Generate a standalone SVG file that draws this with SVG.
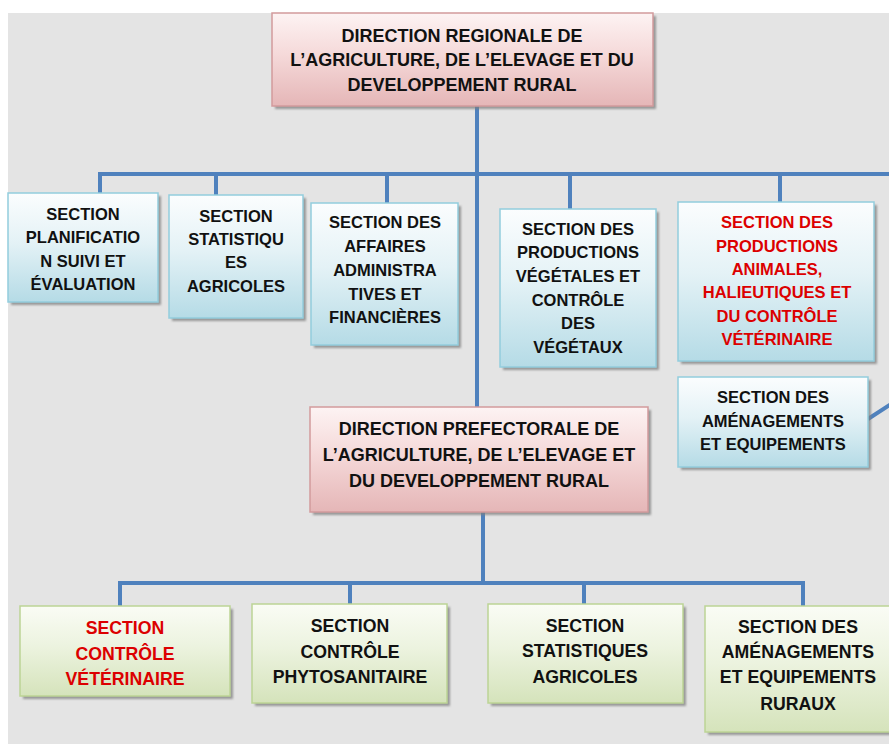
<svg xmlns="http://www.w3.org/2000/svg" width="889" height="744" viewBox="0 0 889 744">
  <defs>
    <linearGradient id="gPink" x1="0" y1="0" x2="0" y2="1">
      <stop offset="0" stop-color="#fdf3f3"/>
      <stop offset="0.45" stop-color="#f5d9d9"/>
      <stop offset="1" stop-color="#e5b6b7"/>
    </linearGradient>
    <linearGradient id="gBlue" x1="0" y1="0" x2="0" y2="1">
      <stop offset="0" stop-color="#fbfdfe"/>
      <stop offset="0.45" stop-color="#e4f2f6"/>
      <stop offset="1" stop-color="#b5dbe6"/>
    </linearGradient>
    <linearGradient id="gGreen" x1="0" y1="0" x2="0" y2="1">
      <stop offset="0" stop-color="#fafcf5"/>
      <stop offset="0.45" stop-color="#ecf3df"/>
      <stop offset="1" stop-color="#d5e3bb"/>
    </linearGradient>
    <filter id="soft" x="-5%" y="-5%" width="110%" height="110%">
      <feGaussianBlur stdDeviation="1"/>
    </filter>
  </defs>
  <style>
    .shadow { fill: #7f7f7f; opacity: 0.75; filter: url(#soft); }
    .pink { fill: url(#gPink); stroke: #d29a9c; stroke-width: 1.5; }
    .blue { fill: url(#gBlue); stroke: #93cddd; stroke-width: 1.5; }
    .green { fill: url(#gGreen); stroke: #bcd495; stroke-width: 1.5; }
    text { font-family: "Liberation Sans", Arial, sans-serif; font-weight: bold; text-anchor: middle; fill: #111; }
    .big { font-size: 18px; }
    .mid { font-size: 16.5px; }
    .low { font-size: 17.7px; }
    .red { fill: #dc0000; }
    .link { fill: none; stroke: #4f81bd; stroke-width: 4; }
  </style>

  <!-- page background -->
  <rect x="0" y="0" width="889" height="744" fill="#ffffff"/>
  <rect x="8" y="13" width="881" height="731" fill="#e4e4e4"/>

  <!-- connectors -->
  <g id="connectors">
    <path class="link" d="M477 106 V407"/>
    <path class="link" d="M100 193 V174 H892"/>
    <path class="link" d="M216 195 V174"/>
    <path class="link" d="M387 203 V174"/>
    <path class="link" d="M570 209 V174"/>
    <path class="link" d="M780 202 V174"/>
    <path class="link" d="M891 174 V404 L868 419"/>
    <path class="link" d="M483 512 V583"/>
    <path class="link" d="M120 606 V583 H803 V606"/>
    <path class="link" d="M350 604 V583"/>
    <path class="link" d="M584 604 V583"/>
  </g>

  <!-- regional directorate -->
  <g id="dir-regionale">
    <rect class="shadow" x="275" y="16" width="381" height="93"/>
    <rect class="pink" x="272" y="13" width="381" height="93"/>
    <text class="big" x="462" y="42">DIRECTION REGIONALE DE</text>
    <text class="big" x="462" y="66">L’AGRICULTURE, DE L’ELEVAGE ET DU</text>
    <text class="big" x="462" y="91">DEVELOPPEMENT RURAL</text>
  </g>

  <g id="sec-planification">
    <rect class="shadow" x="11" y="196" width="150" height="109"/>
    <rect class="blue" x="8" y="193" width="150" height="109"/>
    <text class="mid" x="83" y="220">SECTION</text>
    <text class="mid" x="83" y="243">PLANIFICATIO</text>
    <text class="mid" x="83" y="267">N SUIVI ET</text>
    <text class="mid" x="83" y="290">ÉVALUATION</text>
  </g>

  <g id="sec-statistiques">
    <rect class="shadow" x="172" y="198" width="134" height="123"/>
    <rect class="blue" x="169" y="195" width="134" height="123"/>
    <text class="mid" x="236" y="222">SECTION</text>
    <text class="mid" x="236" y="245">STATISTIQU</text>
    <text class="mid" x="236" y="268">ES</text>
    <text class="mid" x="236" y="292">AGRICOLES</text>
  </g>

  <g id="sec-affaires">
    <rect class="shadow" x="314" y="206" width="147" height="142"/>
    <rect class="blue" x="311" y="203" width="147" height="142"/>
    <text class="mid" x="385" y="228">SECTION DES</text>
    <text class="mid" x="385" y="252">AFFAIRES</text>
    <text class="mid" x="385" y="276">ADMINISTRA</text>
    <text class="mid" x="385" y="300">TIVES ET</text>
    <text class="mid" x="385" y="323">FINANCIÈRES</text>
  </g>

  <g id="sec-vegetales">
    <rect class="shadow" x="503" y="212" width="156" height="158"/>
    <rect class="blue" x="500" y="209" width="156" height="158"/>
    <text class="mid" x="578" y="235">SECTION DES</text>
    <text class="mid" x="578" y="258">PRODUCTIONS</text>
    <text class="mid" x="578" y="282">VÉGÉTALES ET</text>
    <text class="mid" x="578" y="306">CONTRÔLE</text>
    <text class="mid" x="578" y="329">DES</text>
    <text class="mid" x="578" y="353">VÉGÉTAUX</text>
  </g>

  <g id="sec-animales">
    <rect class="shadow" x="681" y="205" width="196" height="159"/>
    <rect class="blue" x="678" y="202" width="196" height="159"/>
    <text class="mid red" x="777" y="228">SECTION DES</text>
    <text class="mid red" x="777" y="252">PRODUCTIONS</text>
    <text class="mid red" x="777" y="275">ANIMALES,</text>
    <text class="mid red" x="777" y="298">HALIEUTIQUES ET</text>
    <text class="mid red" x="777" y="322">DU CONTRÔLE</text>
    <text class="mid red" x="777" y="345">VÉTÉRINAIRE</text>
  </g>

  <g id="sec-amenagements">
    <rect class="shadow" x="681" y="380" width="190" height="90"/>
    <rect class="blue" x="678" y="377" width="190" height="90"/>
    <text class="mid" x="773" y="403">SECTION DES</text>
    <text class="mid" x="773" y="427">AMÉNAGEMENTS</text>
    <text class="mid" x="773" y="450">ET EQUIPEMENTS</text>
  </g>

  <!-- prefectoral directorate -->
  <g id="dir-prefectorale">
    <rect class="shadow" x="313" y="410" width="338" height="105"/>
    <rect class="pink" x="310" y="407" width="338" height="105"/>
    <text class="big" x="479" y="435">DIRECTION PREFECTORALE DE</text>
    <text class="big" x="479" y="461">L’AGRICULTURE, DE L’ELEVAGE ET</text>
    <text class="big" x="479" y="487">DU DEVELOPPEMENT RURAL</text>
  </g>

  <g id="sec-controle-vet">
    <rect class="shadow" x="23" y="609" width="210" height="90"/>
    <rect class="green" x="20" y="606" width="210" height="90"/>
    <text class="low red" x="125" y="634">SECTION</text>
    <text class="low red" x="125" y="660">CONTRÔLE</text>
    <text class="low red" x="125" y="685">VÉTÉRINAIRE</text>
  </g>

  <g id="sec-phyto">
    <rect class="shadow" x="255" y="607" width="195" height="99"/>
    <rect class="green" x="252" y="604" width="195" height="99"/>
    <text class="low" x="350" y="632">SECTION</text>
    <text class="low" x="350" y="658">CONTRÔLE</text>
    <text class="low" x="350" y="683">PHYTOSANITAIRE</text>
  </g>

  <g id="sec-stat-agricoles">
    <rect class="shadow" x="491" y="607" width="195" height="99"/>
    <rect class="green" x="488" y="604" width="195" height="99"/>
    <text class="low" x="585" y="632">SECTION</text>
    <text class="low" x="585" y="657">STATISTIQUES</text>
    <text class="low" x="585" y="683">AGRICOLES</text>
  </g>

  <g id="sec-amenagements-ruraux">
    <rect class="shadow" x="708" y="609" width="190" height="126"/>
    <rect class="green" x="705" y="606" width="190" height="126"/>
    <text class="low" x="798" y="633">SECTION DES</text>
    <text class="low" x="798" y="658">AMÉNAGEMENTS</text>
    <text class="low" x="798" y="683">ET EQUIPEMENTS</text>
    <text class="low" x="798" y="710">RURAUX</text>
  </g>
</svg>
